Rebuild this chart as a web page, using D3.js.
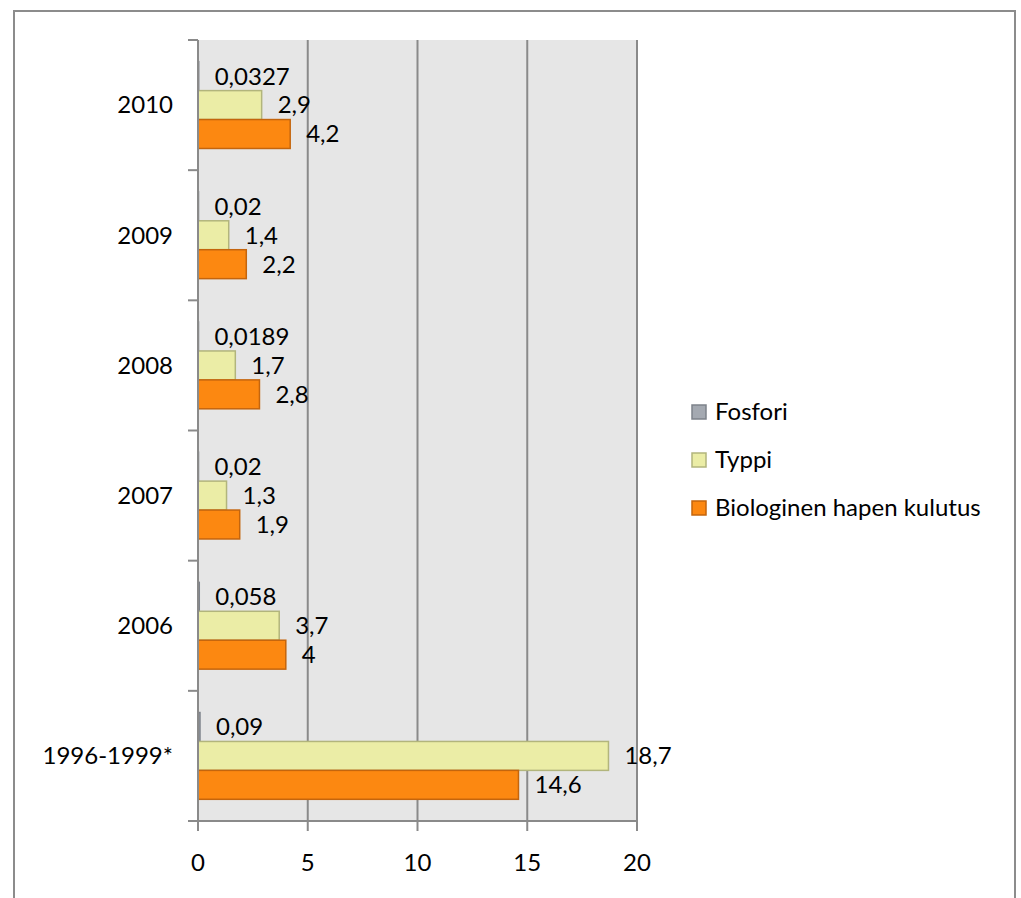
<!DOCTYPE html>
<html>
<head>
<meta charset="utf-8">
<script src="https://cdn.jsdelivr.net/npm/d3@7"></script>
<style>
  body { margin: 0; background: #fff; }
  text { font-family: Lato, "Open Sans", sans-serif; fill: #000; }
</style>
</head>
<body>
<div id="chart"></div>
<script>
// categories top to bottom, as drawn
const years = ['2010', '2009', '2008', '2007', '2006', '1996-1999*'];
const seriesNames = ['Fosfori', 'Typpi', 'Biologinen hapen kulutus'];
const fosfori = [0.0327, 0.02, 0.0189, 0.02, 0.058, 0.09];
const typpi = [2.9, 1.4, 1.7, 1.3, 3.7, 18.7];
const bhk = [4.2, 2.2, 2.8, 1.9, 4, 14.6];
const xTicks = [0, 5, 10, 15, 20];

const fills = ['#a4a9b1', '#ebeda6', '#fc8811'];
const strokes = ['#7d828a', '#b2b57c', '#c4650d'];
const fontSize = 24;

const width = 1021, height = 898;
const plot = { left: 198, right: 637, top: 40, bottom: 821 };

const svg = d3.select('#chart').append('svg')
  .attr('width', width)
  .attr('height', height);

// chart frame
svg.append('rect')
  .attr('x', 14).attr('y', 11)
  .attr('width', 1001).attr('height', 900)
  .attr('fill', 'none')
  .attr('stroke', '#8c8c8c')
  .attr('stroke-width', 2);

const x = d3.scaleLinear().domain([0, 20]).range([plot.left, plot.right]);
const y = d3.scaleBand().domain(years).range([plot.top, plot.bottom]);
const inner = d3.scaleBand().domain(seriesNames)
  .range([0, y.bandwidth()])
  .paddingInner(0)
  .paddingOuter(0.75);

svg.append('rect')
  .attr('x', plot.left).attr('y', plot.top)
  .attr('width', plot.right - plot.left)
  .attr('height', plot.bottom - plot.top)
  .attr('fill', '#e6e6e6');

// vertical gridlines
svg.selectAll('.grid')
  .data(xTicks.slice(1))
  .enter()
  .append('line')
  .attr('class', 'grid')
  .attr('x1', d => x(d)).attr('x2', d => x(d))
  .attr('y1', plot.top).attr('y2', plot.bottom)
  .attr('stroke', '#8a8a8a')
  .attr('stroke-width', 2);

// bars
const rows = years.map((yr, i) => ({
  year: yr,
  vals: [fosfori[i], typpi[i], bhk[i]]
}));

const groups = svg.selectAll('.cat')
  .data(rows)
  .enter()
  .append('g')
  .attr('class', 'cat')
  .attr('transform', d => `translate(0,${y(d.year)})`);

const bars = groups.selectAll('.bar')
  .data(d => d.vals.map((v, j) => ({ v, j, name: seriesNames[j] })))
  .enter();

bars.append('rect')
  .attr('class', 'bar')
  .attr('x', x(0))
  .attr('y', d => inner(d.name))
  .attr('width', d => Math.max(x(d.v) - x(0), 0.5))
  .attr('height', inner.bandwidth())
  .attr('fill', d => fills[d.j])
  .attr('stroke', d => strokes[d.j])
  .attr('stroke-width', 1.5);

const fmt = v => String(v).replace('.', ',');

bars.append('text')
  .attr('x', d => x(d.v) + 16)
  .attr('y', d => inner(d.name) + inner.bandwidth() / 2)
  .attr('dy', '0.35em')
  .attr('font-size', fontSize)
  .text(d => fmt(d.v));

// y axis
const yAxis = svg.append('g')
  .attr('transform', `translate(${plot.left},0)`);
yAxis.append('line')
  .attr('x1', 0).attr('x2', 0)
  .attr('y1', plot.top).attr('y2', plot.bottom)
  .attr('stroke', '#8a8a8a').attr('stroke-width', 2);
const yEdges = years.map(d => y(d)).concat([plot.bottom]);
yAxis.selectAll('.ytick')
  .data(yEdges)
  .enter()
  .append('line')
  .attr('x1', -10).attr('x2', 0)
  .attr('y1', d => d).attr('y2', d => d)
  .attr('stroke', '#8a8a8a').attr('stroke-width', 2);
yAxis.selectAll('.ylab')
  .data(years)
  .enter()
  .append('text')
  .attr('x', -25)
  .attr('y', d => y(d) + y.bandwidth() / 2)
  .attr('dy', '0.35em')
  .attr('text-anchor', 'end')
  .attr('font-size', fontSize)
  .text(d => d);

// x axis
const xAxis = svg.append('g')
  .attr('transform', `translate(0,${plot.bottom})`);
xAxis.append('line')
  .attr('x1', plot.left).attr('x2', plot.right)
  .attr('stroke', '#8a8a8a').attr('stroke-width', 2);
xAxis.selectAll('.xtick')
  .data(xTicks)
  .enter()
  .append('line')
  .attr('x1', d => x(d)).attr('x2', d => x(d))
  .attr('y1', 0).attr('y2', 10)
  .attr('stroke', '#8a8a8a').attr('stroke-width', 2);
xAxis.selectAll('.xlab')
  .data(xTicks)
  .enter()
  .append('text')
  .attr('x', d => x(d))
  .attr('y', 42)
  .attr('dy', '0.35em')
  .attr('text-anchor', 'middle')
  .attr('font-size', fontSize)
  .text(d => d);

// legend
const legend = svg.selectAll('.legend')
  .data(seriesNames)
  .enter()
  .append('g')
  .attr('class', 'legend')
  .attr('transform', (d, i) => `translate(692,${412 + i * 48})`);
legend.append('rect')
  .attr('x', 0).attr('y', -7)
  .attr('width', 14).attr('height', 14)
  .attr('fill', (d, i) => fills[i])
  .attr('stroke', (d, i) => strokes[i])
  .attr('stroke-width', 1.5);
legend.append('text')
  .attr('x', 23)
  .attr('dy', '0.35em')
  .attr('font-size', fontSize)
  .text(d => d);
</script>
</body>
</html>
